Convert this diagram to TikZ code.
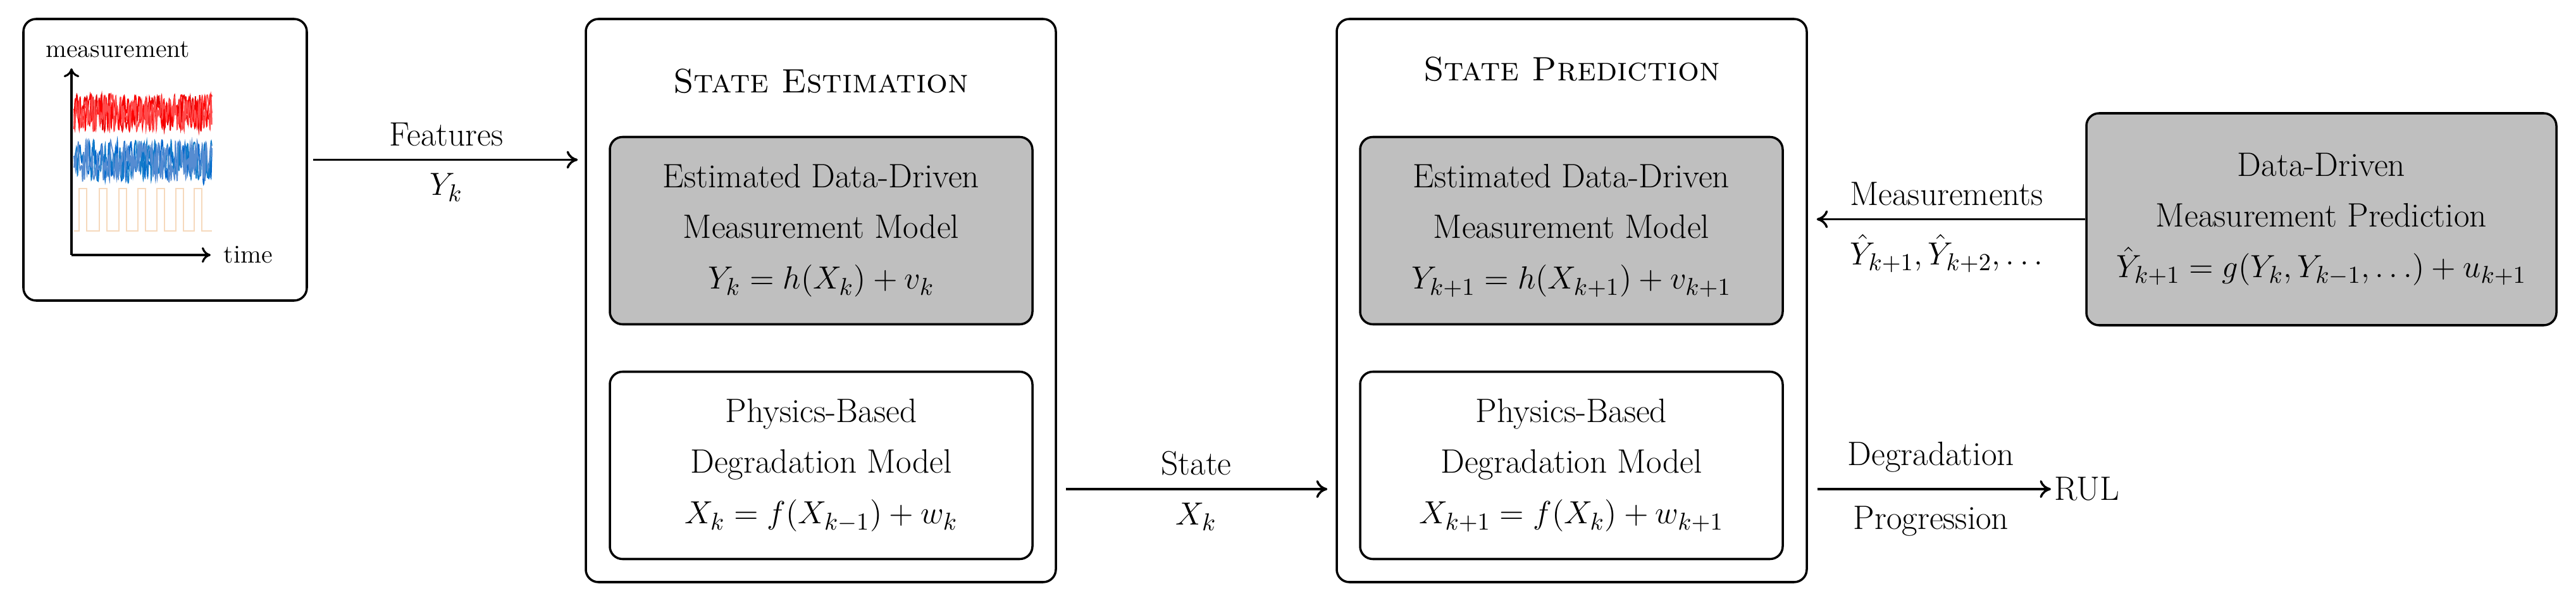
\documentclass[tikz,border=0pt]{standalone}
\usetikzlibrary{arrows.meta}
\begin{document}
\begin{tikzpicture}[
  every node/.style={font=\fontsize{15.2}{22.8}\selectfont},
  box/.style={draw, line width=1pt, rounded corners=0.2cm, align=center, inner sep=0pt},
  outer/.style={box, minimum width=7.43cm, minimum height=8.9cm},
  inner/.style={box, minimum width=6.68cm, minimum height=2.96cm},
  shade/.style={fill=black!25},
  arr/.style={-{To[length=5pt,width=8pt]}, line width=1pt},
  lbl/.style={inner sep=0pt},
  small/.style={font=\fontsize{11.5}{13}\selectfont, inner sep=0pt}
]
\useasboundingbox (0,0) rectangle (40.72,9.52);

% left plot box
\node[box, minimum width=4.48cm, minimum height=4.45cm] (lb) at (2.61,6.995) {};
\begin{scope}
\pgfmathsetseed{7}
\foreach \c in {red!90!black, red, red!70!white}{
  \draw[\c, line width=0.5pt] plot[domain=1.17:3.35, samples=160, smooth] (\x,{7.74+0.28*rand});
}
\foreach \c in {blue!50!cyan!80!black, cyan!60!blue, cyan!50!blue!70!white}{
  \draw[\c, line width=0.5pt] plot[domain=1.17:3.35, samples=160, smooth] (\x,{6.98+0.32*rand});
}
\draw[orange!50!brown!30!white, line width=0.6pt]
  (1.17,5.87) -- (1.25,5.87)
  \foreach \a in {1.25,1.57,1.88,2.18,2.48,2.78,3.07}{
    -- (\a,5.87) -- (\a,6.54) -- (\a+0.12,6.54) -- (\a+0.12,5.87)
  } -- (3.35,5.87);
\end{scope}
\coordinate (o) at (1.13,5.49);
\coordinate (ya) at (1.13,8.44);
\coordinate (xa) at (3.33,5.49);
\draw[-{To[length=4pt,width=7pt]}, line width=0.9pt] (o) -- (ya);
\draw[-{To[length=4pt,width=7pt]}, line width=0.9pt] (o) -- (xa);
\node[small] (ml) at (1.86,8.74) {measurement};
\node[small, anchor=west] (tl) at (xa) [xshift=0.2cm] {time};

% State estimation
\node[outer] (se) at (12.975,4.77) {};
\node (set) at (12.975,8.24) {\textsc{State Estimation}};
\node[inner, shade] (se1) at (12.98,5.875) {Estimated Data-Driven\\Measurement Model\\$Y_k = h(X_k) + v_k$};
\node[inner] (se2) at (12.98,2.165) {Physics-Based\\Degradation Model\\$X_k = f(X_{k-1}) + w_k$};

% State prediction
\node[outer] (sp) at (24.845,4.77) {};
\node (spt) at (24.845,8.43) {\textsc{State Prediction}};
\node[inner, shade] (sp1) at (24.84,5.875) {Estimated Data-Driven\\Measurement Model\\$Y_{k+1} = h(X_{k+1}) + v_{k+1}$};
\node[inner] (sp2) at (24.84,2.165) {Physics-Based\\Degradation Model\\$X_{k+1} = f(X_k) + w_{k+1}$};

% Data-driven prediction
\node[box, shade, minimum width=7.43cm, minimum height=3.35cm] (dd) at (36.695,6.055)
  {Data-Driven\\Measurement Prediction\\$\hat Y_{k+1} = g(Y_k, Y_{k-1},\dots) + u_{k+1}$};

\node[lbl, anchor=west] (rul) at (32.47,1.79) {RUL};
\coordinate (sa) at (0,1.79);

% connectors
\draw[arr, shorten <=0.08cm, shorten >=0.11cm] (lb.east) -- (se.west |- lb.east)
  node[midway, above=0.2cm, lbl] {Features} node[midway, below=0.2cm, lbl] {$Y_k$};
\draw[arr, shorten <=0.14cm, shorten >=0.13cm] (se.east |- sa) -- (sp.west |- sa)
  node[midway, above=0.2cm, lbl] {State} node[midway, below=0.2cm, lbl] {$X_k$};
\draw[arr, shorten >=0.14cm] (dd.west) -- (sp.east |- dd.west)
  node[midway, above=0.2cm, lbl] {Measurements} node[midway, below=0.22cm, lbl] {$\hat Y_{k+1}, \hat Y_{k+2}, \dots$};
\draw[arr, shorten <=0.15cm, shorten >=0.05cm] (sp.east |- sa) -- (rul.west)
  node[midway, above=0.25cm, lbl] {Degradation} node[midway, below=0.25cm, lbl] {Progression};
\end{tikzpicture}
\end{document}
